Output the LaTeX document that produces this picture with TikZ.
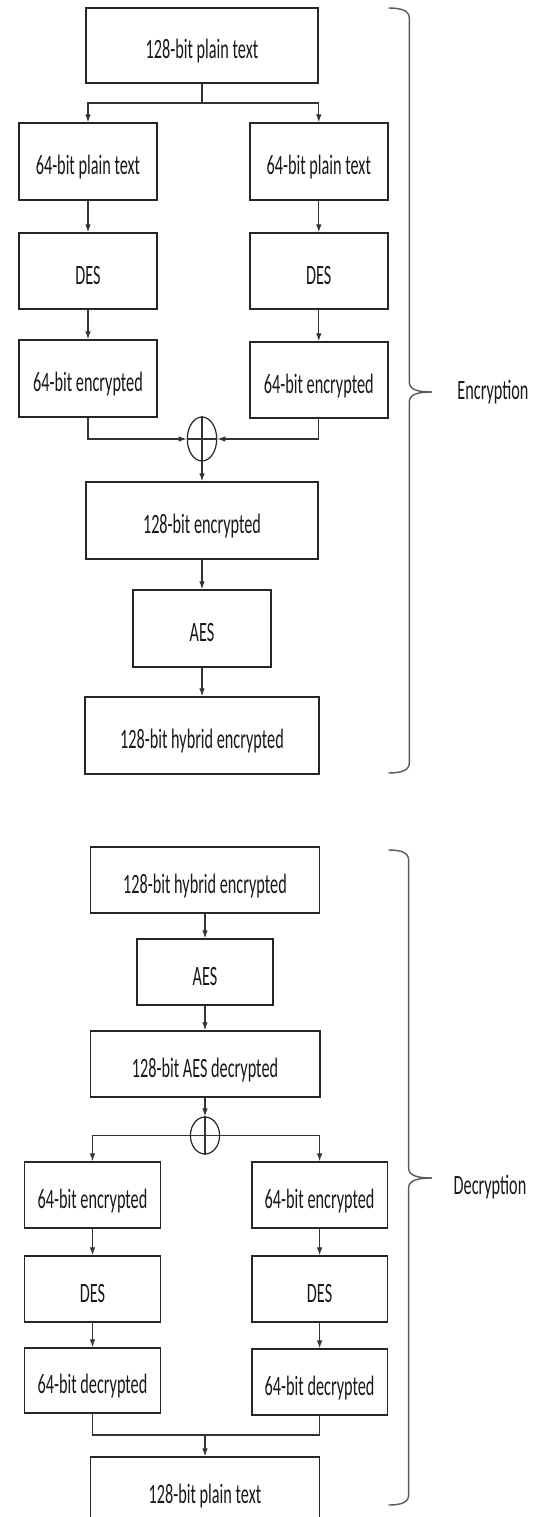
\documentclass[tikz,border=0pt]{standalone}
\usepackage{fontspec}
\setmainfont{Carlito}[FakeStretch=0.58]
\usetikzlibrary{arrows.meta,shapes.geometric}
\begin{document}
\begin{tikzpicture}[x=1pt,y=-1pt,
  blk/.style={draw=black!85, line width=1.4pt, rectangle, inner sep=0pt,
    text height=26pt, text depth=0pt, font=\fontsize{28}{32}\selectfont, text=black!90},
  conn/.style={draw=black!80, line width=1.1pt},
  arr/.style={conn, -{Latex[length=8pt,width=5.5pt]}},
  xorn/.style={draw=black!85, line width=1.2pt, ellipse, inner sep=0pt},
  brc/.style={draw=black!65, line width=1.4pt},
  side/.style={font=\fontsize{28}{32}\selectfont, text=black!90}]
\useasboundingbox (0,0) rectangle (541,1517);
\clip (0,0) rectangle (541,1517);
\fill[white] (0,0) rectangle (541,1517);

% ---------- Encryption ----------
\node[blk, minimum width=232pt, minimum height=75pt] (p128) at (202,45.5) {128-bit plain text};
\node[blk, minimum width=138pt, minimum height=77pt] (pl) at (88,161.5) {64-bit plain text};
\node[blk, minimum width=138pt, minimum height=77pt] (pr) at (318.8,161.5) {64-bit plain text};
\node[blk, minimum width=138pt, minimum height=76pt] (desl) at (88,271) {DES};
\node[blk, minimum width=138pt, minimum height=76pt] (desr) at (318.8,271) {DES};
\node[blk, minimum width=138pt, minimum height=77pt] (encl) at (88,378.5) {64-bit encrypted};
\node[blk, minimum width=138pt, minimum height=76pt] (encr) at (318.8,380) {64-bit encrypted};
\node[xorn, minimum width=29.4pt, minimum height=44pt] (x1) at (202,439) {};
\draw[conn] (x1.north) -- (x1.south) (x1.west) -- (x1.east);
\node[blk, minimum width=232pt, minimum height=77pt] (e128) at (202,520.5) {128-bit encrypted};
\node[blk, minimum width=138pt, minimum height=77pt] (aes1) at (202,628.5) {AES};
\node[blk, minimum width=234pt, minimum height=77pt] (hyb1) at (202,735.5) {128-bit hybrid encrypted};

\coordinate (s1) at (202,103);
\draw[conn] (p128.south) -- (s1);
\draw[arr] (s1) -| (pl.north);
\draw[arr] (s1) -| (pr.north);
\draw[arr] (pl) -- (desl);
\draw[arr] (pr) -- (desr);
\draw[arr] (desl) -- (encl);
\draw[arr] (desr) -- (encr);
\draw[arr] (encl.south) |- (x1.west);
\draw[arr] (encr.south) |- (x1.east);
\draw[arr] (x1.south) -- (e128.north);
\draw[arr] (e128) -- (aes1);
\draw[arr] (aes1) -- (hyb1);

\draw[brc] (388.5,8) .. controls (402,8) and (409.3,11) .. (409.3,18) -- (409.3,382)
  .. controls (409.3,389) and (416,392) .. (431.8,392);
\draw[brc] (431.8,392) .. controls (416,392) and (409.3,395) .. (409.3,402) -- (409.3,763)
  .. controls (409.3,770) and (402,773) .. (388.5,773);
\node[side] (enclab) at (493,392) {Encryption};

% ---------- Decryption ----------
\node[blk, minimum width=229pt, minimum height=66pt] (hyb2) at (205,880) {128-bit hybrid encrypted};
\node[blk, minimum width=136pt, minimum height=66pt] (aes2) at (205,972) {AES};
\node[blk, minimum width=229.6pt, minimum height=66pt] (dec128) at (205,1064) {128-bit AES decrypted};
\node[xorn, minimum width=29.2pt, minimum height=37pt] (x2) at (205,1135.5) {};
\draw[conn] (x2.north) -- (x2.south) (x2.west) -- (x2.east);
\node[blk, minimum width=135.5pt, minimum height=66pt] (e64l) at (92.5,1195) {64-bit encrypted};
\node[blk, minimum width=135.5pt, minimum height=66pt] (e64r) at (319.6,1195) {64-bit encrypted};
\node[blk, minimum width=136pt, minimum height=66pt] (des2l) at (92.5,1289) {DES};
\node[blk, minimum width=135.5pt, minimum height=66pt] (des2r) at (319.6,1289) {DES};
\node[blk, minimum width=136pt, minimum height=65pt] (d64l) at (92.5,1380.5) {64-bit decrypted};
\node[blk, minimum width=135.5pt, minimum height=66pt] (d64r) at (319.6,1382) {64-bit decrypted};
\node[blk, minimum width=228.5pt, minimum height=66pt] (plain2) at (205,1490) {128-bit plain text};

\draw[arr] (hyb2) -- (aes2);
\draw[arr] (aes2) -- (dec128);
\draw[arr] (dec128) -- (x2.north);
\draw[arr] (x2.west) -| (e64l.north);
\draw[arr] (x2.east) -| (e64r.north);
\draw[arr] (e64l) -- (des2l);
\draw[arr] (e64r) -- (des2r);
\draw[arr] (des2l) -- (d64l);
\draw[arr] (des2r) -- (d64r);
\coordinate (m2) at (205,1435);
\draw[conn] (d64l.south) |- (m2);
\draw[conn] (d64r.south) |- (m2);
\draw[arr] (m2) -- (plain2.north);

\draw[brc] (388.5,850) .. controls (402,850) and (408.6,853) .. (408.6,860) -- (408.6,1168)
  .. controls (408.6,1175) and (416,1178) .. (431.8,1178);
\draw[brc] (431.8,1178) .. controls (416,1178) and (408.6,1181) .. (408.6,1188) -- (408.6,1495)
  .. controls (408.6,1502) and (402,1505) .. (388.5,1505);
\node[side] (declab) at (490,1187) {Decryption};
\end{tikzpicture}
\end{document}
